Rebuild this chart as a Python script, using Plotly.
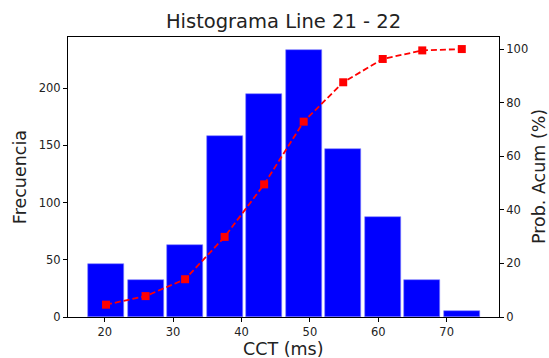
import plotly.graph_objects as go

# Data
bin_centers = [20.19, 25.97, 31.75, 37.53, 43.31, 49.09, 54.87, 60.65, 66.43, 72.21]
counts = [46, 32, 63, 158, 195, 233, 147, 87, 32, 5]
cum_pct = [4.6, 7.8, 14.1, 29.9, 49.5, 72.9, 87.6, 96.3, 99.5, 100.0]
x_ticks = [20, 30, 40, 50, 60, 70]
y1_ticks = [0, 50, 100, 150, 200]
y2_ticks = [0, 20, 40, 60, 80, 100]

bin_width = bin_centers[1] - bin_centers[0]
font = "DejaVu Sans"
txt = "#222222"

fig = go.Figure()
fig.add_trace(go.Bar(
    x=bin_centers, y=counts, width=bin_width * 0.91,
    marker=dict(color="#0000ff", line=dict(color="#7f7fff", width=0.6)),
    yaxis="y", showlegend=False,
))
fig.add_trace(go.Scatter(
    x=bin_centers, y=cum_pct, mode="lines+markers",
    line=dict(color="#ff0000", width=1.8, dash="6px,3px"),
    marker=dict(symbol="square", size=8, color="#ff0000"),
    yaxis="y2", showlegend=False,
))

axis_common = dict(
    showgrid=False, zeroline=False, showline=True, linecolor="#000000", linewidth=1,
    ticks="outside", ticklen=4, tickcolor="#000000", automargin=False,
    tickfont=dict(family=font, size=11.5, color=txt),
)

label_font = dict(family=font, size=17.5, color=txt)

fig.update_layout(
    width=549, height=358,
    margin=dict(l=68, r=50, t=37, b=41),
    paper_bgcolor="white", plot_bgcolor="white",
    title=dict(text="Histograma Line 21 - 22", x=0.5, xref="paper", xanchor="center",
               y=1 - 21.5 / 358, yanchor="middle",
               font=dict(family=font, size=19.5, color=txt)),
    bargap=0,
    xaxis=dict(range=[14.63, 77.65], tickvals=x_ticks, mirror=True, **axis_common),
    yaxis=dict(range=[0, 244.7], tickvals=y1_ticks, **axis_common),
    yaxis2=dict(range=[0, 104.5], tickvals=y2_ticks, overlaying="y", side="right", **axis_common),
    annotations=[
        dict(text="CCT (ms)", xref="paper", yref="paper", x=0.5, y=-0.113,
             xanchor="center", yanchor="middle", showarrow=False, font=label_font, borderpad=0),
        dict(text="Frecuencia", xref="paper", yref="paper", x=-0.111, y=0.5, textangle=-90,
             xanchor="center", yanchor="middle", showarrow=False, font=label_font, borderpad=0),
        dict(text="Prob. Acum (%)", xref="paper", yref="paper", x=1.093, y=0.5, textangle=-90,
             xanchor="center", yanchor="middle", showarrow=False, font=label_font, borderpad=0),
    ],
)

fig.write_html("out.html")
